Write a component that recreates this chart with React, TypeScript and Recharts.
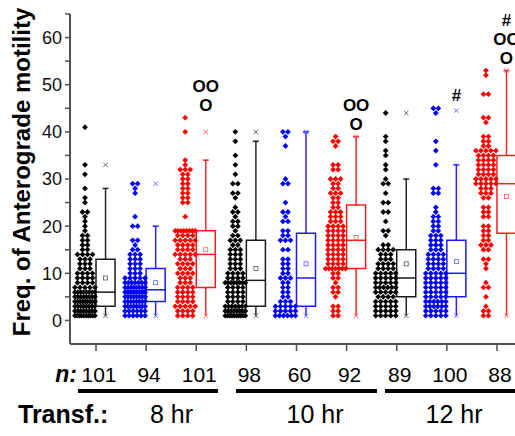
import {
  ComposedChart,
  Scatter,
  XAxis,
  YAxis,
  ReferenceArea,
  ReferenceLine,
} from "recharts";

const FONT = '"Liberation Sans", Arial, Helvetica, sans-serif';
const AXIS_COLOR = "#505050";

// groups: 8 hr / 10 hr / 12 hr, three transfections each
const GROUPS = [1, 2, 3, 4, 5, 6, 7, 8, 9];
const N_LABELS = ["101", "94", "101", "98", "60", "92", "89", "100", "88"];
const TIME_LABELS = ["8 hr", "10 hr", "12 hr"];
const COLORS = ["#000000", "#0000ff", "#ff0000", "#000000", "#0000ff", "#ff0000", "#000000", "#0000ff", "#ff0000"];
const LIGHT = ["#555555", "#5a5aff", "#ff5a5a", "#555555", "#5a5aff", "#ff5a5a", "#555555", "#5a5aff", "#ff5a5a"];

// [value, number of cells with that value]
const FREQ_G1 = [[1, 10], [2, 8], [3, 8], [4, 9], [5, 8], [6, 8], [7, 5], [8, 4], [9, 4], [10, 4], [11, 3], [12, 3], [13, 3], [14, 4], [15, 2], [16, 2], [17, 2], [18, 2], [19, 1], [20, 1], [21, 1], [22, 1], [23, 2], [25, 1], [26, 1], [28, 1], [31, 1], [33, 1], [41, 1]];
const FREQ_G2 = [[1, 6], [2, 6], [3, 8], [4, 8], [5, 8], [6, 11], [7, 8], [8, 7], [9, 5], [10, 3], [11, 3], [12, 3], [13, 3], [14, 3], [15, 2], [16, 1], [17, 2], [20, 2], [22, 1], [27, 1], [28, 1], [29, 2]];
const FREQ_G3 = [[1, 4], [2, 4], [3, 5], [4, 4], [5, 4], [6, 4], [7, 4], [8, 3], [9, 3], [10, 4], [11, 3], [12, 4], [13, 3], [14, 5], [15, 4], [16, 4], [17, 5], [18, 4], [19, 8], [22, 1], [25, 2], [26, 2], [27, 2], [28, 2], [29, 2], [30, 2], [31, 2], [32, 3], [33, 1], [34, 1], [40, 1], [43, 1]];
const FREQ_G4 = [[1, 10], [2, 8], [3, 7], [4, 4], [5, 4], [6, 4], [7, 4], [8, 8], [9, 4], [10, 4], [11, 3], [12, 3], [13, 3], [14, 3], [15, 3], [16, 2], [17, 3], [18, 2], [19, 1], [20, 2], [21, 2], [22, 1], [23, 2], [24, 1], [26, 1], [27, 2], [29, 2], [31, 1], [33, 1], [35, 1], [38, 1], [40, 1]];
const FREQ_G5 = [[1, 6], [2, 5], [3, 5], [4, 3], [5, 2], [6, 2], [7, 2], [8, 2], [9, 3], [10, 2], [11, 2], [12, 2], [13, 2], [15, 2], [17, 3], [18, 2], [19, 2], [21, 2], [22, 1], [23, 2], [25, 1], [29, 2], [30, 1], [37, 1], [39, 1], [40, 2]];
const FREQ_G6 = [[1, 2], [2, 2], [3, 2], [5, 1], [6, 2], [7, 2], [8, 1], [9, 2], [10, 2], [11, 7], [12, 4], [13, 4], [14, 4], [15, 4], [16, 4], [17, 4], [18, 4], [19, 4], [20, 4], [21, 3], [22, 3], [23, 3], [24, 2], [25, 2], [26, 2], [27, 3], [28, 2], [29, 2], [30, 3], [32, 2], [33, 2], [37, 1], [38, 2], [39, 1]];
const FREQ_G7 = [[1, 5], [2, 5], [3, 5], [4, 5], [5, 4], [6, 5], [7, 6], [8, 5], [9, 5], [10, 5], [11, 4], [12, 4], [13, 3], [14, 3], [15, 4], [16, 2], [18, 1], [19, 2], [21, 1], [23, 2], [25, 2], [27, 1], [29, 2], [30, 1], [32, 1], [33, 1], [35, 1], [36, 1], [38, 1], [39, 1], [44, 1]];
const FREQ_G8 = [[1, 5], [2, 5], [3, 6], [4, 6], [5, 5], [6, 5], [7, 5], [8, 5], [9, 5], [10, 5], [11, 4], [12, 4], [13, 4], [14, 4], [15, 3], [16, 3], [17, 3], [18, 3], [19, 2], [20, 2], [21, 2], [22, 2], [23, 1], [24, 1], [27, 2], [28, 2], [33, 1], [36, 1], [38, 1], [44, 1], [45, 2]];
const FREQ_G9 = [[1, 2], [2, 2], [3, 1], [5, 1], [7, 2], [8, 1], [11, 1], [12, 1], [13, 2], [15, 2], [16, 3], [17, 2], [18, 2], [19, 2], [20, 2], [22, 2], [23, 2], [24, 2], [26, 2], [27, 3], [28, 3], [29, 5], [30, 5], [31, 4], [32, 4], [33, 4], [34, 4], [35, 4], [36, 5], [37, 2], [38, 2], [39, 2], [42, 1], [43, 2], [48, 2], [52, 1], [53, 1]];
const FREQS = [FREQ_G1, FREQ_G2, FREQ_G3, FREQ_G4, FREQ_G5, FREQ_G6, FREQ_G7, FREQ_G8, FREQ_G9];

// box statistics
const Q1 = [3, 4, 7, 3, 3, 11, 5, 5, 18.5];
const MEDIAN = [6, 6.5, 14, 8.5, 9, 17, 9, 10, 29];
const Q3 = [13, 11, 19, 17, 18.5, 24.5, 15, 17, 35];
const WHISK_LO = [1, 1, 1, 1, 1, 1, 1, 1, 1];
const WHISK_HI = [28, 20, 34, 38, 40, 39, 30, 33, 53];
const MEAN = [9, 8, 15, 11, 12, 17.6, 12, 12.5, 26.3];
const P1 = [1, 1, 1, 1, 1, 1, 1, 1, 1];
const P99 = [33, 29, 40, 40, 40, 39, 44, 44.5, 53];

const SIGNIF = [[], [], ["OO", "O"], [], [], ["OO", "O"], [], ["#"], ["#", "OO", "O"]];

const Y_TICKS = [0, 5, 10, 15, 20, 25, 30, 35, 40, 45, 50, 55, 60, 65];

const SWARM_OFF = -0.22;
const BOX_W = 0.38;
const CAP = 0.06;

function swarm(freq: number[][], g: number) {
  const pts: { x: number; y: number }[] = [];
  freq.forEach(([v, c]) => {
    const step = c > 1 ? Math.min(0.1, 0.4 / (c - 1)) : 0;
    for (let k = 0; k < c; k++) {
      pts.push({ x: g + SWARM_OFF + (k - (c - 1) / 2) * step, y: v });
    }
  });
  return pts;
}

const Diamond = (props: any) => {
  const { cx, cy, fill } = props;
  const r = 2.9;
  return (
    <polygon
      points={`${cx},${cy - r} ${cx + r},${cy} ${cx},${cy + r} ${cx - r},${cy}`}
      fill={fill}
    />
  );
};

const MeanSquare = (props: any) => {
  const { cx, cy, fill } = props;
  return <rect x={cx - 2} y={cy - 2} width={4} height={4} fill="none" stroke={fill} strokeWidth={0.8} />;
};

const Cross = (props: any) => {
  const { cx, cy, fill } = props;
  const r = 2.2;
  return (
    <g stroke={fill} strokeWidth={0.9}>
      <line x1={cx - r} y1={cy - r} x2={cx + r} y2={cy + r} />
      <line x1={cx - r} y1={cy + r} x2={cx + r} y2={cy - r} />
    </g>
  );
};

const signifShape = (lines: string[]) => (props: any) => {
  const { cx, cy } = props;
  const n = lines.length;
  return (
    <g>
      {lines.map((t, i) => (
        <text
          key={i}
          x={cx}
          y={cy - 13 - (n - 1 - i) * 19}
          dy="0.36em"
          textAnchor="middle"
          fontSize={17}
          fontWeight="bold"
          fontFamily={FONT}
          fill="#000"
        >
          {t}
        </text>
      ))}
    </g>
  );
};

const YTick = (props: any) => {
  const { x, y, payload } = props;
  const v = payload.value;
  const major = v % 10 === 0;
  return (
    <g>
      <line x1={x} x2={x - 5} y1={y} y2={y} stroke={AXIS_COLOR} strokeWidth={1.5} />
      {major && (
        <text x={x - 8} y={y} dy="0.36em" textAnchor="end" fontSize={18} fontFamily={FONT} fill="#111">
          {v}
        </text>
      )}
    </g>
  );
};

const XTick = (props: any) => {
  const { x, y, payload } = props;
  return (
    <g>
      <line x1={x} x2={x} y1={y} y2={y + 7} stroke={AXIS_COLOR} strokeWidth={1.5} />
      <text x={x + 3} y={y + 38} textAnchor="middle" fontSize={21} fontFamily={FONT} fill="#000">
        {N_LABELS[payload.value - 1]}
      </text>
    </g>
  );
};

export default function App() {
  return (
    <div style={{ position: "absolute", left: 0, top: 0, width: 515, height: 436, background: "#fff", overflow: "hidden" }}>
      <ComposedChart width={515} height={436} margin={{ top: 14, right: 0, left: 0, bottom: 0 }}>
        <XAxis
          type="number"
          dataKey="x"
          domain={[0.481, 9.36]}
          ticks={GROUPS}
          interval={0}
          allowDataOverflow
          height={92}
          tickSize={0}
          tickMargin={0}
          tickLine={false}
          tick={<XTick />}
          axisLine={{ stroke: AXIS_COLOR, strokeWidth: 2 }}
        />
        <YAxis
          type="number"
          dataKey="y"
          domain={[-5, 65]}
          ticks={Y_TICKS}
          interval={0}
          allowDataOverflow
          width={70}
          tickSize={0}
          tickMargin={0}
          tickLine={false}
          tick={<YTick />}
          axisLine={{ stroke: AXIS_COLOR, strokeWidth: 2 }}
        />
        {GROUPS.map((g, i) => (
          <Scatter
            key={`pts${g}`}
            data={swarm(FREQS[i], g)}
            fill={COLORS[i]}
            shape={Diamond}
            isAnimationActive={false}
          />
        ))}
        {GROUPS.map((g, i) => (
          <ReferenceArea
            key={`box${g}`}
            x1={g}
            x2={g + BOX_W}
            y1={Q1[i]}
            y2={Q3[i]}
            fill="#fff"
            fillOpacity={0}
            stroke={COLORS[i]}
            strokeWidth={1.5}
            strokeOpacity={0.9}
            ifOverflow="visible"
          />
        ))}
        {GROUPS.map((g, i) => (
          <ReferenceLine
            key={`med${g}`}
            segment={[{ x: g, y: MEDIAN[i] }, { x: g + BOX_W, y: MEDIAN[i] }]}
            stroke={COLORS[i]}
            strokeWidth={1.5}
            strokeOpacity={0.9}
            ifOverflow="visible"
          />
        ))}
        {GROUPS.map((g, i) => (
          <ReferenceLine
            key={`wh${g}`}
            segment={[{ x: g + BOX_W / 2, y: Q3[i] }, { x: g + BOX_W / 2, y: WHISK_HI[i] }]}
            stroke={COLORS[i]}
            strokeWidth={1.5}
            strokeOpacity={0.85}
            ifOverflow="visible"
          />
        ))}
        {GROUPS.map((g, i) => (
          <ReferenceLine
            key={`wl${g}`}
            segment={[{ x: g + BOX_W / 2, y: Q1[i] }, { x: g + BOX_W / 2, y: WHISK_LO[i] }]}
            stroke={COLORS[i]}
            strokeWidth={1.5}
            strokeOpacity={0.85}
            ifOverflow="visible"
          />
        ))}
        {GROUPS.map((g, i) => (
          <ReferenceLine
            key={`cap${g}`}
            segment={[{ x: g + BOX_W / 2 - CAP, y: WHISK_HI[i] }, { x: g + BOX_W / 2 + CAP, y: WHISK_HI[i] }]}
            stroke={COLORS[i]}
            strokeWidth={1.5}
            strokeOpacity={0.85}
            ifOverflow="visible"
          />
        ))}
        {GROUPS.map((g, i) => (
          <Scatter
            key={`mean${g}`}
            data={[{ x: g + BOX_W / 2, y: MEAN[i] }]}
            fill={LIGHT[i]}
            shape={MeanSquare}
            isAnimationActive={false}
          />
        ))}
        {GROUPS.map((g, i) => (
          <Scatter
            key={`pct${g}`}
            data={[{ x: g + BOX_W / 2, y: P1[i] }, { x: g + BOX_W / 2, y: P99[i] }]}
            fill={LIGHT[i]}
            shape={Cross}
            isAnimationActive={false}
          />
        ))}
        {GROUPS.map((g, i) =>
          SIGNIF[i].length ? (
            <Scatter
              key={`sig${g}`}
              data={[{ x: g + BOX_W / 2, y: Math.max(...FREQS[i].map((f) => f[0])) }]}
              fill="#000"
              shape={signifShape(SIGNIF[i])}
              isAnimationActive={false}
            />
          ) : null
        )}
      </ComposedChart>
      <svg
        width={515}
        height={436}
        style={{ position: "absolute", left: 0, top: 0, pointerEvents: "none" }}
        fontFamily={FONT}
      >
        <text transform="rotate(-90)" x={-172} y={30} textAnchor="middle" fontSize={24} fontWeight="bold" fill="#000">
          Freq. of Anterograde motility
        </text>
        <text x={77} y={382} textAnchor="end" fontSize={23} fontWeight="bold" fontStyle="italic" fill="#000">
          n:
        </text>
        <rect x={78} y={389} width={140} height={4} fill="#000" />
        <rect x={236} y={389} width={141} height={4} fill="#000" />
        <rect x={385} y={389} width={135} height={4} fill="#000" />
        <text x={18} y={423} fontSize={25} fontWeight="bold" fill="#000">
          Transf.:
        </text>
        <text x={171.5} y={423} textAnchor="middle" fontSize={25} fill="#000">
          {TIME_LABELS[0]}
        </text>
        <text x={315} y={423} textAnchor="middle" fontSize={25} fill="#000">
          {TIME_LABELS[1]}
        </text>
        <text x={454} y={423} textAnchor="middle" fontSize={25} fill="#000">
          {TIME_LABELS[2]}
        </text>
      </svg>
    </div>
  );
}
